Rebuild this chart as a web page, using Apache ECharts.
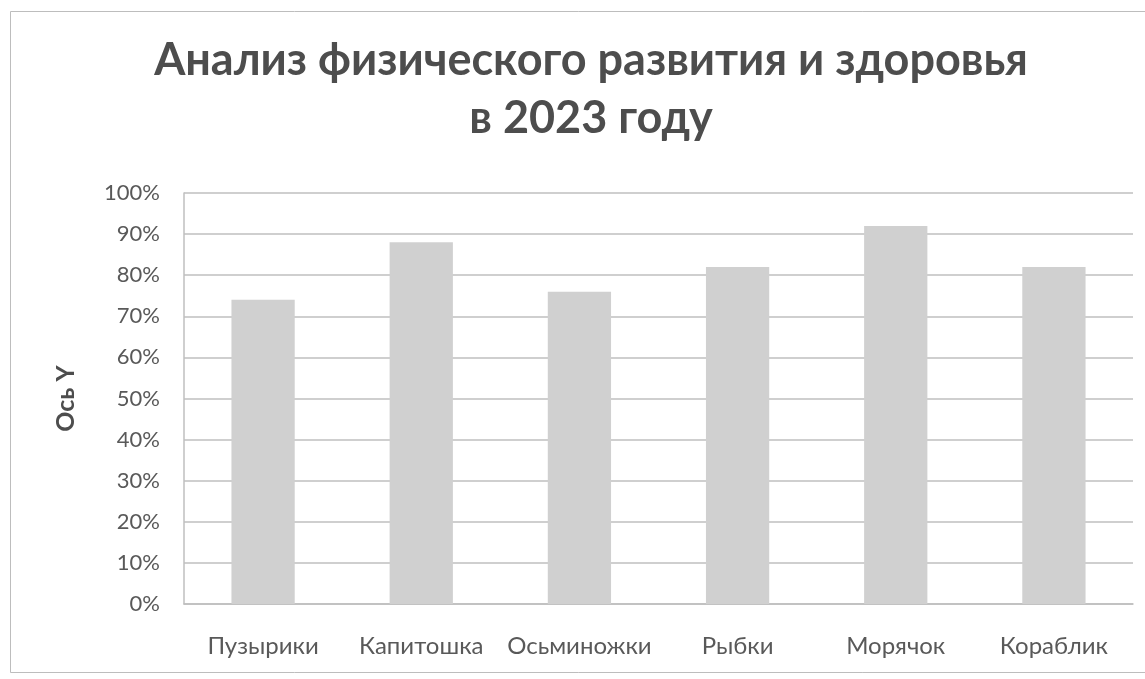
<!DOCTYPE html>
<html>
<head>
<meta charset="utf-8">
<script src="https://cdn.jsdelivr.net/npm/echarts@6/dist/echarts.min.js"></script>
<style>
html,body{margin:0;padding:0;background:#fff;}
#c{width:1145px;height:679px;}
</style>
</head>
<body>
<div id="c"></div>
<script>
const categories = ['Пузырики','Капитошка','Осьминожки','Рыбки','Морячок','Кораблик'];
const values = [74, 88, 76, 82, 92, 82];
const titleText = 'Анализ физического развития и здоровья\nв 2023 году';
const axisYName = 'Ось Y';

const chart = echarts.init(document.getElementById('c'));
chart.setOption({
  backgroundColor: '#fff',
  animation: false,
  graphic: [{
    type: 'rect',
    shape: {x: 10.5, y: 11.5, width: 1160, height: 661},
    style: {fill: 'none', stroke: '#bdbdbd', lineWidth: 1}
  }],
  title: {
    text: titleText,
    left: 586,
    textAlign: 'center',
    top: 26,
    textStyle: {
      fontFamily: 'Lato',
      fontWeight: 'bold',
      fontSize: 45,
      color: '#4d4d4d',
      lineHeight: 58
    }
  },
  grid: {left: 184, right: 12, top: 193, bottom: 75, containLabel: false},
  xAxis: {
    type: 'category',
    data: categories,
    axisLine: {show: true, lineStyle: {color: '#bfbfbf', width: 1.5}},
    axisTick: {show: false},
    axisLabel: {
      interval: 0,
      margin: 30,
      fontFamily: 'Lato',
      fontSize: 24,
      color: '#595959'
    }
  },
  yAxis: {
    type: 'value',
    min: 0,
    max: 100,
    interval: 10,
    name: axisYName,
    nameLocation: 'middle',
    nameRotate: 90,
    nameGap: 106,
    nameTextStyle: {fontFamily: 'Lato', fontWeight: 'bold', fontSize: 25, color: '#4d4d4d'},
    axisLine: {show: true, lineStyle: {color: '#bfbfbf', width: 1.5}},
    axisTick: {show: false},
    axisLabel: {
      formatter: '{value}%',
      margin: 24,
      fontFamily: 'Lato',
      fontSize: 22,
      color: '#595959'
    },
    splitLine: {show: true, lineStyle: {color: '#bfbfbf', width: 1.5}}
  },
  series: [{
    type: 'bar',
    data: values,
    barWidth: '40%',
    itemStyle: {color: '#d0d0d0'}
  }]
});
</script>
</body>
</html>
